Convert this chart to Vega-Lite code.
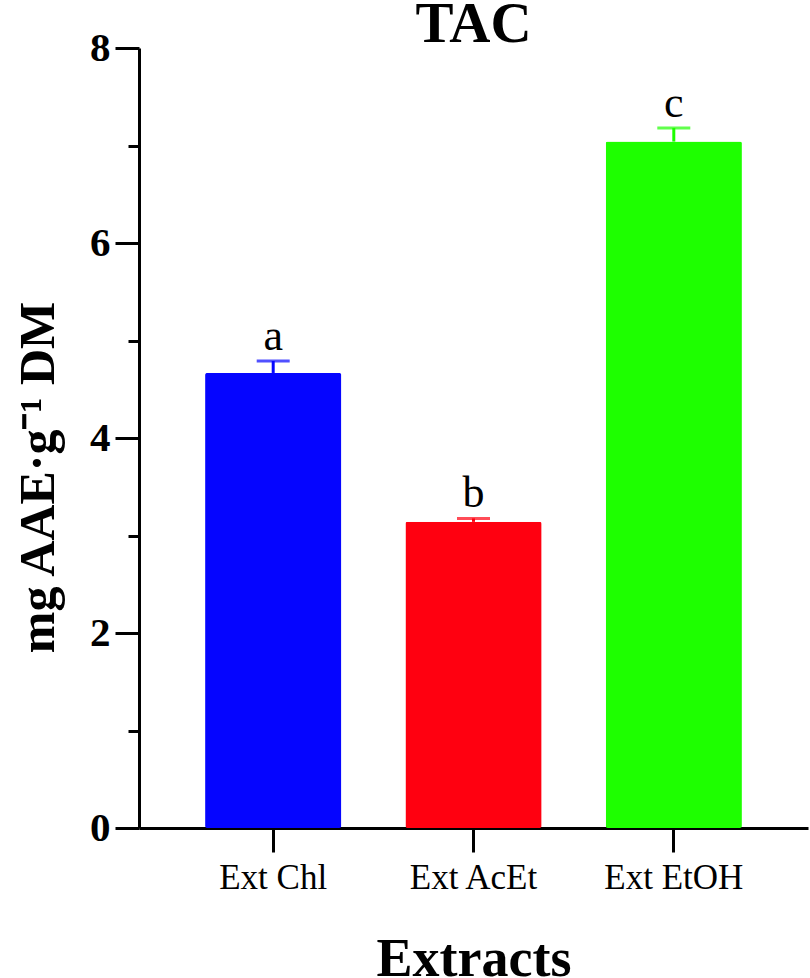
{
  "$schema": "https://vega.github.io/schema/vega-lite/v6.json",
  "width": 669,
  "height": 780,
  "autosize": "none",
  "padding": {"left": 139, "top": 48, "right": 2, "bottom": 150},
  "background": "white",
  "config": {"view": {"stroke": null}, "font": "Liberation Serif"},
  "title": {
    "text": "TAC",
    "font": "Liberation Serif",
    "fontSize": 57,
    "fontWeight": "bold",
    "color": "black",
    "anchor": "middle",
    "frame": "group",
    "baseline": "alphabetic",
    "offset": 0,
    "dy": 72
  },
  "data": {
    "values": [
      {"extract": "Ext Chl", "mean": 4.667, "upper": 4.79, "letter": "a"},
      {"extract": "Ext AcEt", "mean": 3.14, "upper": 3.175, "letter": "b"},
      {"extract": "Ext EtOH", "mean": 7.04, "upper": 7.18, "letter": "c"}
    ]
  },
  "encoding": {
    "x": {
      "field": "extract",
      "type": "nominal",
      "sort": null,
      "title": "Extracts",
      "scale": {"paddingInner": 0.32, "paddingOuter": 0.33},
      "axis": {
        "labelAngle": 0,
        "tickSize": 24,
        "tickWidth": 3,
        "tickColor": "black",
        "domainWidth": 3,
        "domainColor": "black",
        "labelFont": "Liberation Serif",
        "labelFontSize": 35,
        "labelFontWeight": "normal",
        "labelColor": "black",
        "labelBaseline": "alphabetic",
        "labelPadding": 36,
        "titleFont": "Liberation Serif",
        "titleFontSize": 54,
        "titleFontWeight": "bold",
        "titleColor": "black",
        "titleBaseline": "alphabetic",
        "titleY": 147
      }
    }
  },
  "layer": [
    {
      "mark": {"type": "bar", "cornerRadius": 2},
      "encoding": {
        "y": {
          "field": "mean",
          "type": "quantitative",
          "title": "mg AAE·g⁻¹ DM",
          "scale": {"domain": [0, 8], "nice": false},
          "axis": {
            "values": [0, 1, 2, 3, 4, 5, 6, 7, 8],
            "format": "d",
            "labelExpr": "datum.value % 2 === 0 ? datum.label : ''",
            "tickSize": {"condition": {"test": "datum.value % 2 === 0", "value": 24}, "value": 11},
            "tickWidth": 3,
            "tickColor": "black",
            "domainWidth": 3,
            "domainColor": "black",
            "grid": false,
            "labelFont": "Liberation Serif",
            "labelFontSize": 41,
            "labelFontWeight": "bold",
            "labelColor": "black",
            "labelPadding": 5,
            "titleFont": "Liberation Serif",
            "titleFontSize": 50,
            "titleFontWeight": "bold",
            "titleColor": "black",
            "titleAngle": -90,
            "titleAlign": "center",
            "titleBaseline": "alphabetic",
            "titleX": -86,
            "titleY": 429
          }
        },
        "color": {
          "field": "extract",
          "type": "nominal",
          "scale": {"domain": ["Ext Chl", "Ext AcEt", "Ext EtOH"], "range": ["#0505FF", "#FF0010", "#1EFF00"]},
          "legend": null
        }
      }
    },
    {
      "mark": {"type": "rule", "strokeWidth": 3},
      "encoding": {
        "y": {"field": "mean", "type": "quantitative"},
        "y2": {"field": "upper"},
        "color": {"field": "extract", "type": "nominal", "legend": null}
      }
    },
    {
      "mark": {"type": "tick", "thickness": 3, "size": 33},
      "encoding": {
        "y": {"field": "upper", "type": "quantitative"},
        "color": {"field": "extract", "type": "nominal", "legend": null}
      }
    },
    {
      "mark": {"type": "text", "font": "Liberation Serif", "fontSize": 44, "baseline": "alphabetic", "dy": -11, "color": "black"},
      "encoding": {
        "y": {"field": "upper", "type": "quantitative"},
        "text": {"field": "letter"}
      }
    }
  ]
}
